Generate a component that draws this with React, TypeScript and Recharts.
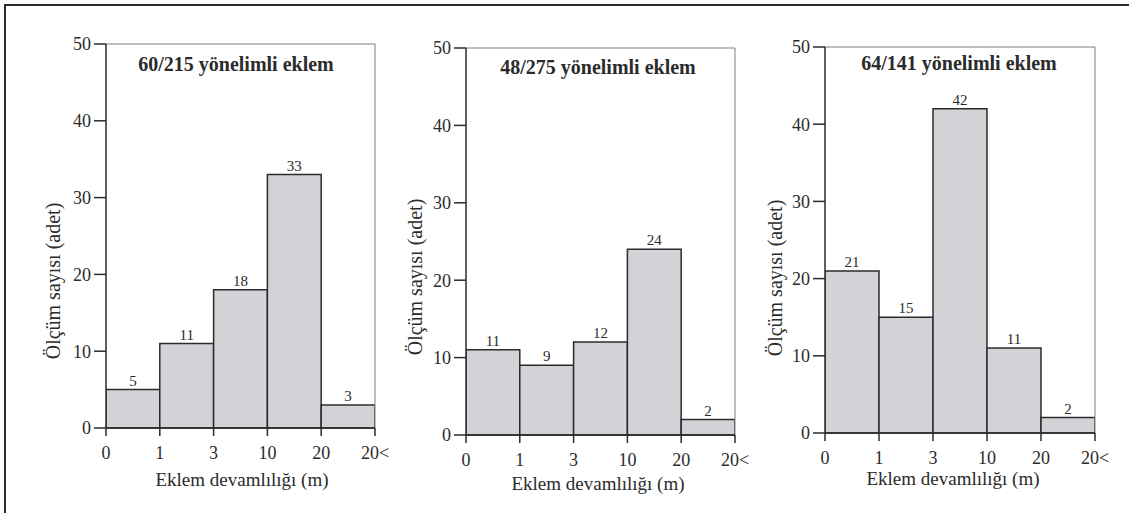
import { BarChart, Bar, XAxis, YAxis, LabelList, ReferenceLine } from 'recharts';

const BINS = ['0-1', '1-3', '3-10', '10-20', '20<'];
const BIN_MIDS = [0.5, 1.5, 2.5, 3.5, 4.5];
const EDGE_LABELS = ['0', '1', '3', '10', '20', '20<'];
const EDGE_TICKS = [0, 1, 2, 3, 4, 5];
const Y_TICKS = [0, 10, 20, 30, 40, 50];

const COUNTS_60_215 = [5, 11, 18, 33, 3];
const COUNTS_48_275 = [11, 9, 12, 24, 2];
const COUNTS_64_141 = [21, 15, 42, 11, 2];

const FONT = '"Liberation Serif", "Times New Roman", serif';
const INK = '#2b2b2b';
const FILL = '#d1d3d6';
const FRAME = '#808080';
const H = 513;
const Y_AXIS_W = 60;
const X_AXIS_H = 30;

type Panel = {
  title: string;
  counts: number[];
  left: number; // chart container left (page px)
  width: number;
  plot: { x: number; y: number; w: number; h: number };
  titlePos: [number, number];
  xTitlePos: [number, number];
  yTitlePos: [number, number];
};

const PANELS: Panel[] = [
  {
    title: '60/215 yönelimli eklem',
    counts: COUNTS_60_215,
    left: 0,
    width: 395,
    plot: { x: 106, y: 44, w: 269, h: 384 },
    titlePos: [236, 64],
    xTitlePos: [242, 479],
    yTitlePos: [53, 281],
  },
  {
    title: '48/275 yönelimli eklem',
    counts: COUNTS_48_275,
    left: 395,
    width: 360,
    plot: { x: 466, y: 48, w: 269, h: 387 },
    titlePos: [598, 67],
    xTitlePos: [598, 483],
    yTitlePos: [415, 277],
  },
  {
    title: '64/141 yönelimli eklem',
    counts: COUNTS_64_141,
    left: 755,
    width: 374,
    plot: { x: 825, y: 47, w: 270, h: 386 },
    titlePos: [959, 63],
    xTitlePos: [953, 478],
    yTitlePos: [775, 278],
  },
];

function HistPanel({ p }: { p: Panel }) {
  const data = BINS.map((bin, i) => ({ bin, mid: BIN_MIDS[i], count: p.counts[i] }));
  const margin = {
    left: p.plot.x - p.left - Y_AXIS_W,
    top: p.plot.y,
    right: p.left + p.width - (p.plot.x + p.plot.w),
    bottom: H - (p.plot.y + p.plot.h) - X_AXIS_H,
  };
  const tx = (x: number) => x - p.left;
  // a hair under the band width, otherwise recharts shrinks bars to 90%
  const barSize = p.plot.w / BINS.length - 0.01;

  return (
    <div style={{ position: 'absolute', left: p.left, top: 0 }}>
      <BarChart width={p.width} height={H} data={data} margin={margin} barCategoryGap={0} barGap={0}>
        <ReferenceLine y={50} stroke={FRAME} strokeWidth={1} ifOverflow="visible" />
        <ReferenceLine x={5} stroke={FRAME} strokeWidth={1} ifOverflow="visible" />
        <XAxis
          dataKey="mid"
          type="number"
          domain={[0, 5]}
          ticks={EDGE_TICKS}
          allowDataOverflow
          height={X_AXIS_H}
          interval={0}
          tickFormatter={(v: number) => EDGE_LABELS[v]}
          tickSize={8}
          tickMargin={10}
          axisLine={{ stroke: INK, strokeWidth: 1.5 }}
          tickLine={{ stroke: INK, strokeWidth: 1.5 }}
          tick={{ fontSize: 18, fill: INK, fontFamily: FONT }}
        />
        <YAxis
          domain={[0, 50]}
          ticks={Y_TICKS}
          width={Y_AXIS_W}
          tickSize={12}
          tickMargin={3}
          axisLine={{ stroke: INK, strokeWidth: 1.5 }}
          tickLine={{ stroke: INK, strokeWidth: 1.5 }}
          tick={{ fontSize: 18, fill: INK, fontFamily: FONT }}
        />
        <Bar
          dataKey="count"
          barSize={barSize}
          fill={FILL}
          stroke={INK}
          strokeWidth={1.5}
          isAnimationActive={false}
        >
          <LabelList dataKey="count" position="top" offset={4} style={{ fontSize: 15, fill: INK, fontFamily: FONT }} />
        </Bar>
        <text
          x={tx(p.titlePos[0])}
          y={p.titlePos[1]}
          textAnchor="middle"
          dominantBaseline="central"
          style={{ fontSize: 20, fontWeight: 700, fill: INK, fontFamily: FONT }}
        >
          {p.title}
        </text>
        <text
          x={tx(p.xTitlePos[0])}
          y={p.xTitlePos[1]}
          textAnchor="middle"
          dominantBaseline="central"
          style={{ fontSize: 19, fill: INK, fontFamily: FONT }}
        >
          Eklem devamlılığı (m)
        </text>
        <text
          x={tx(p.yTitlePos[0])}
          y={p.yTitlePos[1]}
          textAnchor="middle"
          dominantBaseline="central"
          transform={`rotate(-90 ${tx(p.yTitlePos[0])} ${p.yTitlePos[1]})`}
          style={{ fontSize: 20, fill: INK, fontFamily: FONT }}
        >
          Ölçüm sayısı (adet)
        </text>
      </BarChart>
    </div>
  );
}

export default function App() {
  return (
    <div
      style={{
        position: 'absolute',
        left: 0,
        top: 0,
        width: 1129,
        height: H,
        background: '#fff',
        overflow: 'hidden',
        fontFamily: FONT,
      }}
    >
      <div
        style={{
          position: 'absolute',
          left: 4,
          top: 4,
          width: 1125,
          height: H - 4,
          borderTop: `2px solid ${INK}`,
          borderLeft: `2px solid ${INK}`,
          boxSizing: 'border-box',
        }}
      />
      {PANELS.map((p) => (
        <HistPanel key={p.title} p={p} />
      ))}
    </div>
  );
}
